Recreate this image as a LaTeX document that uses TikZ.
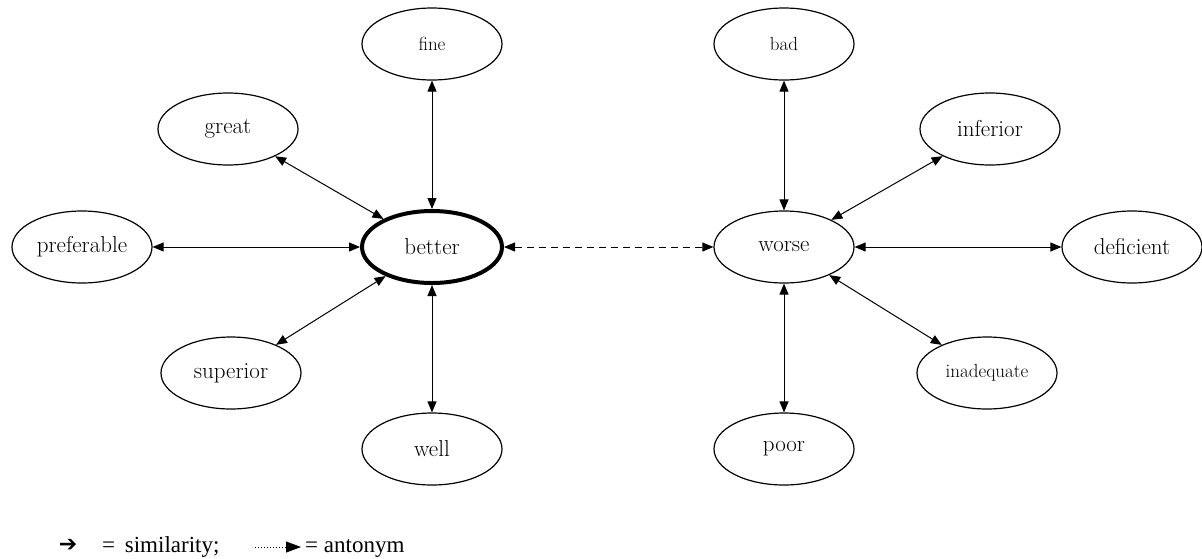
\documentclass[tikz,border=0pt]{standalone}
\usepackage{fontspec}
\usetikzlibrary{arrows.meta,shapes.geometric}
\newfontfamily\legendfont{Liberation Serif}
\newfontfamily\symfont{DejaVu Sans}

\begin{document}
\begin{tikzpicture}%
	[x=1pt, y=-1pt,
	word/.style={ellipse, draw, line width=1.2pt, minimum width=140pt, minimum height=72pt, inner sep=0pt, font=\fontsize{23}{27}\selectfont},
	small/.style={font=\fontsize{19}{22}\selectfont},
	main/.style={line width=4pt},
	syn/.style={line width=1pt, {Triangle[length=11pt,width=9pt]}-{Triangle[length=11pt,width=9pt]}},
	ant/.style={syn, dashed, dash pattern=on 7pt off 5pt},
	legend/.style={anchor=base west, inner sep=0pt}]
%
\useasboundingbox (0,0) rectangle (1202,558);
%%
%% The two centres
%%
\node[word,main] (better) at (432,247) {better};
\node[word] (worse) at (784,247) {worse};
%%
%% Words around better
%%
\node[word,small] (fine) at (432,44) {fine};
\node[word] (great) at (228,129) {great};
\node[word] (preferable) at (82,247) {preferable};
\node[word] (superior) at (231,373) {superior};
\node[word] (well) at (432,449) {well};
%%
%% Words around worse
%%
\node[word,small] (bad) at (784,44) {bad};
\node[word] (inferior) at (990,129) {inferior};
\node[word] (deficient) at (1132,247) {deficient};
\node[word,small] (inadequate) at (987,373) {inadequate};
\node[word] (poor) at (784,449) {poor};
%%
%% Similarity edges
%%
\draw[syn] (better) -- (fine);
\draw[syn] (better) -- (great);
\draw[syn] (better) -- (preferable);
\draw[syn] (better) -- (superior);
\draw[syn] (better) -- (well);
\draw[syn] (worse) -- (bad);
\draw[syn] (worse) -- (inferior);
\draw[syn] (worse) -- (deficient);
\draw[syn] (worse) -- (inadequate);
\draw[syn] (worse) -- (poor);
%%
%% Antonym edge
%%
\draw[ant] (better) -- (worse);
%%
%% Legend
%%
\node[inner sep=0pt] (simsym) at (68,545) {\symfont\fontsize{22}{24}\selectfont\bfseries ➔};
\node[legend] (simtext) at (102,552) {\legendfont\fontsize{23}{27}\selectfont =\hspace{4pt} similarity;};
\coordinate (antstart) at (255,547);
\coordinate (antend) at (301,547);
\draw[dotted, line width=1pt, -{Triangle[length=15pt,width=11pt]}] (antstart) -- (antend);
\node[legend] (anttext) at (305,552) {\legendfont\fontsize{23}{27}\selectfont = antonym};
%%
\end{tikzpicture}
\end{document}
